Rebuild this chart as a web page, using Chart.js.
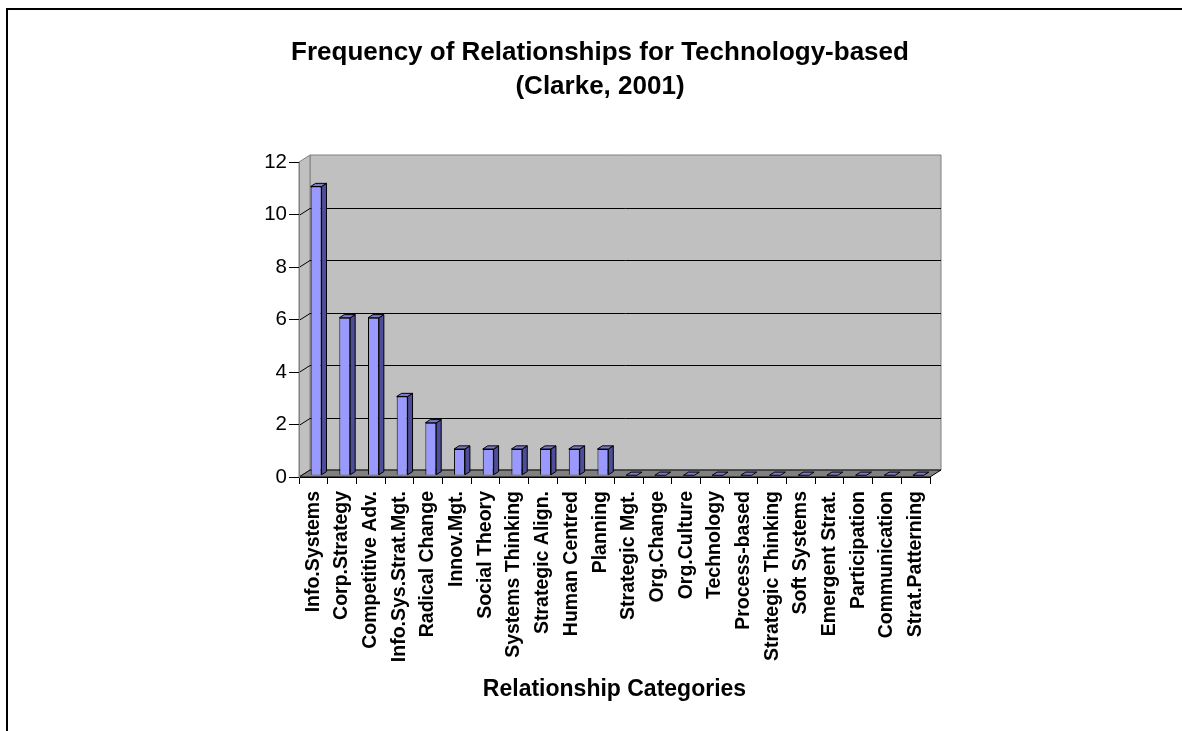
<!DOCTYPE html>
<html>
<head>
<meta charset="utf-8">
<title>Frequency of Relationships for Technology-based</title>
<script src="https://cdn.jsdelivr.net/npm/chart.js@4.4.1/dist/chart.umd.min.js"></script>
<style>
  html, body { margin: 0; padding: 0; background: #fff; overflow: hidden; }
  #frame {
    position: absolute; left: 6px; top: 8px;
    width: 1300px; height: 900px;
    border: 2px solid #000;
  }
  #wrap { position: absolute; left: 0; top: 0; width: 1182px; height: 731px; }
</style>
</head>
<body>
<div id="frame"></div>
<div id="wrap"><canvas id="chart" width="1182" height="731"></canvas></div>
<script>
// Categories and counts
const categories = [
  'Info.Systems', 'Corp.Strategy', 'Competitive Adv.', 'Info.Sys.Strat.Mgt.',
  'Radical Change', 'Innov.Mgt.', 'Social Theory', 'Systems Thinking',
  'Strategic Align.', 'Human Centred', 'Planning', 'Strategic Mgt.',
  'Org.Change', 'Org.Culture', 'Technology', 'Process-based',
  'Strategic Thinking', 'Soft Systems', 'Emergent Strat.', 'Participation',
  'Communication', 'Strat.Patterning'
];
const frequencies = [11, 6, 6, 3, 2, 1, 1, 1, 1, 1, 1, 0, 0, 0, 0, 0, 0, 0, 0, 0, 0, 0];
const yTicks = [0, 2, 4, 6, 8, 10, 12];
const titleLines = ['Frequency of Relationships for Technology-based', '(Clarke, 2001)'];
const xAxisTitle = 'Relationship Categories';

const FONT = "'Liberation Sans', Arial, Helvetica, sans-serif";

// depth of the 3d box (back wall offset from the front plane)
const DEPTH_X = 11;
const DEPTH_Y = -7;
// bars sit inside the depth: front face shift and bar thickness
const BAR_SHIFT = 0.25;
const BAR_DEPTH = 0.45;

const WALL = '#C0C0C0';
const WALL_EDGE = '#808080';
const FLOOR = '#808080';
const BAR_FRONT = '#9999FF';
const BAR_TOP = '#7A7ACC';
const BAR_SIDE = '#4D4D99';

function poly(ctx, pts, fill, stroke) {
  ctx.beginPath();
  ctx.moveTo(pts[0][0], pts[0][1]);
  for (let i = 1; i < pts.length; i++) ctx.lineTo(pts[i][0], pts[i][1]);
  ctx.closePath();
  if (fill) { ctx.fillStyle = fill; ctx.fill(); }
  if (stroke) { ctx.strokeStyle = stroke; ctx.lineWidth = 1; ctx.stroke(); }
}

// walls, floor and gridlines of the 3d box
const boxPlugin = {
  id: 'box3d',
  beforeDraw(chart) {
    const { ctx, chartArea: a, scales } = chart;
    const L = a.left, R = a.right, T = a.top, B = a.bottom;
    ctx.save();
    // back wall
    poly(ctx, [[L + DEPTH_X, T + DEPTH_Y], [R + DEPTH_X, T + DEPTH_Y], [R + DEPTH_X, B + DEPTH_Y], [L + DEPTH_X, B + DEPTH_Y]], WALL, WALL_EDGE);
    // side wall
    poly(ctx, [[L, T], [L + DEPTH_X, T + DEPTH_Y], [L + DEPTH_X, B + DEPTH_Y], [L, B]], WALL, WALL_EDGE);
    // floor
    poly(ctx, [[L, B], [R, B], [R + DEPTH_X, B + DEPTH_Y], [L + DEPTH_X, B + DEPTH_Y]], FLOOR, '#000');

    // gridlines: across the back wall and diagonally along the side wall
    ctx.strokeStyle = '#000';
    ctx.lineWidth = 1;
    yTicks.forEach(v => {
      if (v === 0 || v === 12) return;
      const py = Math.round(scales.y.getPixelForValue(v)) + 0.5;
      ctx.beginPath();
      ctx.moveTo(L, py);
      ctx.lineTo(L + DEPTH_X, py + DEPTH_Y);
      ctx.lineTo(R + DEPTH_X, py + DEPTH_Y);
      ctx.stroke();
    });
    ctx.restore();
  },
  beforeDatasetDraw(chart) {
    chart.ctx.save();
    chart.ctx.translate(DEPTH_X * BAR_SHIFT, DEPTH_Y * BAR_SHIFT);
  },
  afterDatasetDraw(chart, args) {
    const ctx = chart.ctx;
    const dx = DEPTH_X * BAR_DEPTH;
    const dy = DEPTH_Y * BAR_DEPTH;
    args.meta.data.forEach(bar => {
      const { x, y, base, width } = bar.getProps(['x', 'y', 'base', 'width'], true);
      const l = x - width / 2;
      const r = x + width / 2;
      if (base - y > 0.5) {
        poly(ctx, [[r, y], [r + dx, y + dy], [r + dx, base + dy], [r, base]], BAR_SIDE, '#000');
      }
      poly(ctx, [[l, y], [l + dx, y + dy], [r + dx, y + dy], [r, y]], BAR_TOP, '#000');
    });
    ctx.restore();
  }
};

new Chart(document.getElementById('chart').getContext('2d'), {
  type: 'bar',
  data: {
    labels: categories,
    datasets: [{
      label: 'Frequency',
      data: frequencies,
      backgroundColor: BAR_FRONT,
      borderColor: '#000',
      borderWidth: 1,
      barPercentage: 0.38,
      categoryPercentage: 1,
      clip: false
    }]
  },
  options: {
    responsive: false,
    animation: false,
    events: [],
    layout: { padding: { left: 18, right: 0, top: 0, bottom: 0 } },
    plugins: {
      legend: { display: false },
      tooltip: { enabled: false },
      title: {
        display: true,
        text: titleLines,
        color: '#000',
        font: { family: FONT, size: 26, weight: 'bold', lineHeight: 1.3 },
        padding: { top: 36, bottom: 58.4 }
      }
    },
    scales: {
      x: {
        type: 'category',
        offset: true,
        grid: { offset: true, drawOnChartArea: false, drawTicks: true, tickLength: 7, color: '#000' },
        border: { display: true, color: '#000' },
        ticks: {
          autoSkip: false,
          minRotation: 90,
          maxRotation: 90,
          padding: 7,
          color: '#000',
          font: { family: FONT, size: 19.5, weight: 'bold' }
        },
        title: {
          display: true,
          text: xAxisTitle,
          color: '#000',
          font: { family: FONT, size: 23, weight: 'bold', lineHeight: 1.2 },
          padding: { top: 0, bottom: 28 }
        },
        afterFit(s) { s.height = 254; }
      },
      y: {
        min: 0,
        max: 12,
        position: 'left',
        grid: { drawOnChartArea: false, drawTicks: true, tickLength: 10, color: '#000' },
        border: { display: true, color: WALL_EDGE },
        ticks: {
          stepSize: 2,
          padding: 2,
          color: '#000',
          font: { family: FONT, size: 20.5 }
        },
        afterFit(s) { s.width = 281; }
      },
      // keeps room to the right of the plot so the titles center on the page
      pad: {
        type: 'linear',
        position: 'right',
        display: true,
        grid: { display: false },
        border: { display: false },
        ticks: { display: false },
        afterFit(s) { s.width = 252; }
      }
    }
  },
  plugins: [boxPlugin]
});
</script>
</body>
</html>
